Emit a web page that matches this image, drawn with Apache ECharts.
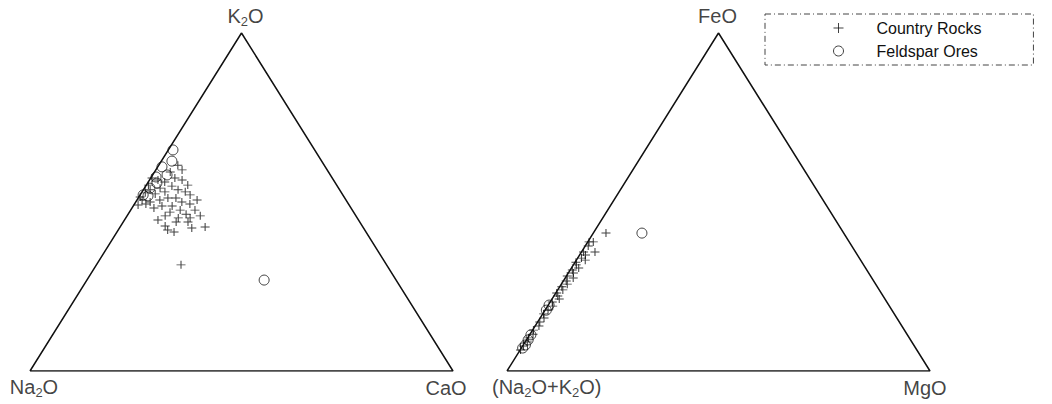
<!DOCTYPE html>
<html>
<head>
<meta charset="utf-8">
<script src="https://cdn.jsdelivr.net/npm/echarts@6/dist/echarts.min.js"></script>
<style>
html,body{margin:0;padding:0;background:#fff;}
#chart{width:1052px;height:404px;}
</style>
</head>
<body>
<div id="chart"></div>
<script>
// ---- Vertex (apex) labels: [bottom-left, top, bottom-right] ----
const leftVertexLabels = ['{m|Na}{s|2}{m|O}', '{m|K}{s|2}{m|O}', '{m|CaO}'];
const rightVertexLabels = ['{m|(Na}{s|2}{m|O+K}{s|2}{m|O)}', '{m|FeO}', '{m|MgO}'];
const seriesNames = ['Country Rocks', 'Feldspar Ores'];

// ---- Left diagram: compositions [Na2O, K2O, CaO] (%) ----
const leftCountryRocks = [
  [42.6,57.1,0.3],[41.5,56.5,2.0],[40.2,55.9,3.9],[37.2,57.1,5.7],[35.8,56.5,7.7],
  [39.1,54.7,6.2],[42.2,54.1,3.7],[44.8,53.6,1.6],[46.4,52.7,0.9],[44.2,52.4,3.4],
  [41.6,53.0,5.4],[38.2,53.6,8.2],[36.8,53.0,10.2],[36.1,52.1,11.8],[41.8,51.2,7.0],
  [39.9,51.2,8.9],[44.0,50.6,5.4],[46.6,50.0,3.4],[48.2,50.6,1.2],[39.1,50.0,10.9],
  [37.5,49.4,13.1],[42.0,48.8,9.2],[40.7,47.6,11.7],[37.2,47.6,15.2],[43.4,47.0,9.6],
  [39.9,46.4,13.7],[42.3,45.3,12.4],[39.5,45.3,15.2],[45.1,45.9,9.0],[36.8,45.9,17.3],
  [43.4,44.1,12.5],[40.6,44.1,15.3],[47.4,44.7,7.9],[37.3,42.6,20.1],[40.6,42.3,17.1],
  [45.4,41.1,13.5],[48.6,31.4,20.0],[44.4,48.8,6.8],[46.6,48.2,5.2],[35.2,50.6,14.2],
  [44.5,55.0,0.5],[35.2,55.0,9.8],[37.4,58.9,3.7],[34.6,60.9,4.5],[34.3,59.5,6.2],
  [48.2,51.5,0.3],[47.9,49.4,2.7],[49.9,49.1,1.0],[46.6,42.9,10.5],[46.6,41.7,11.7]
];
const leftFeldsparOres = [
  [33.5,65.4,1.1],[35.4,62.1,2.5],[38.6,60.4,1.0],[38.6,58.0,3.4],[41.5,57.4,1.1],
  [44.6,54.1,1.3],[47.2,52.1,0.7],[46.2,51.8,2.0],[42.2,55.6,2.2],[31.2,26.9,41.9]
];

// ---- Right diagram: compositions [Na2O+K2O, FeO, MgO] (%) ----
const rightCountryRocks = [
  [56.2,40.8,3.0],[61.5,38.2,0.3],[64.3,35.2,0.5],[64.3,34.3,1.4],[65.7,33.4,0.9],
  [67.6,32.2,0.2],[67.9,31.4,0.7],[67.8,30.5,1.7],[69.6,29.9,0.5],[69.8,29.0,1.2],
  [71.7,28.1,0.2],[70.6,27.5,1.9],[72.7,26.6,0.7],[72.9,25.7,1.4],[74.6,24.9,0.5],
  [74.8,24.0,1.2],[76.7,23.1,0.2],[76.9,22.2,0.9],[77.0,21.3,1.7],[79.1,20.4,0.5],
  [79.6,19.2,1.2],[81.3,18.0,0.7],[82.9,16.9,0.2],[83.4,15.7,0.9],[85.0,14.5,0.5],
  [85.8,13.3,0.9],[87.7,12.1,0.2],[88.4,10.9,0.7],[90.0,9.8,0.2],[90.9,8.6,0.5],
  [92.4,7.4,0.2],[93.7,6.2,0.1],[65.1,32.8,2.1],[62.3,37.0,0.7],[61.6,35.2,3.2],
  [60.5,38.2,1.3]
];
const rightFeldsparOres = [
  [47.7,40.8,11.5],[80.3,19.5,0.2],[81.7,18.0,0.3],[89.0,10.7,0.3],
  [90.4,9.2,0.4],[91.8,7.7,0.5],[92.9,6.8,0.3]
];

// ternary corners [left, top, right]
const corners = [[100,0,0],[0,100,0],[0,0,100],[100,0,0]];

// ternary -> diagram plane (x: 0..1, y: 0..1 of the triangle's height)
function project(c) {
  const s = c[0] + c[1] + c[2];
  const top = c[1] / s, right = c[2] / s;
  return [right + top / 2, top];
}

const crossPath = 'path://M5,0 L5,10 M0,5 L10,5';
const FONT = 'Liberation Sans, Arial, sans-serif';

const rich = {
  m: { fontSize: 20, lineHeight: 22, verticalAlign: 'top', fontFamily: FONT, color: '#111' },
  s: { fontSize: 13, lineHeight: 14, padding: [9, 0, 0, 0], verticalAlign: 'top', fontFamily: FONT, color: '#111' }
};

function frame(gi) {
  return {
    type: 'line', xAxisIndex: gi, yAxisIndex: gi, silent: true,
    data: corners.map(project), symbol: 'none',
    lineStyle: { color: '#111', width: 1.5 }, z: 1
  };
}
function vertexLabels(gi, labels, cfg) {
  return {
    type: 'scatter', xAxisIndex: gi, yAxisIndex: gi, silent: true,
    symbolSize: 0,
    data: corners.slice(0, 3).map((c, i) => ({
      value: project(c),
      label: Object.assign({
        show: true, position: 'inside', formatter: labels[i],
        fontFamily: FONT, rich: rich
      }, cfg[i])
    }))
  };
}
function rocks(gi, data) {
  return {
    name: seriesNames[0], type: 'scatter', xAxisIndex: gi, yAxisIndex: gi,
    symbol: crossPath, symbolSize: [9, 8],
    itemStyle: { color: 'rgba(0,0,0,0)', borderColor: '#111', borderWidth: 1 },
    data: data.map(project), z: 3
  };
}
function ores(gi, data) {
  return {
    name: seriesNames[1], type: 'scatter', xAxisIndex: gi, yAxisIndex: gi,
    symbol: 'circle', symbolSize: 10,
    itemStyle: { color: 'rgba(255,255,255,0)', borderColor: '#111', borderWidth: 1 },
    data: data.map(project), z: 4
  };
}

const axisBase = { type: 'value', min: 0, max: 1, show: false };

const chart = echarts.init(document.getElementById('chart'), null, { renderer: 'svg' });
chart.setOption({
  backgroundColor: '#fff',
  animation: false,
  grid: [
    { left: 30, top: 33, width: 423, height: 338 },
    { left: 507, top: 33, width: 423, height: 338 }
  ],
  xAxis: [Object.assign({ gridIndex: 0 }, axisBase), Object.assign({ gridIndex: 1 }, axisBase)],
  yAxis: [Object.assign({ gridIndex: 0 }, axisBase), Object.assign({ gridIndex: 1 }, axisBase)],
  legend: {
    orient: 'vertical', left: 765, top: 14,
    padding: [6, 52, 6, 68], itemGap: 7,
    itemWidth: 10, itemHeight: 10,
    borderColor: '#444', borderWidth: 1, borderType: [6, 3, 1, 3],
    textStyle: { fontFamily: FONT, fontSize: 16, color: '#111', padding: [0, 0, 0, 28] },
    data: [
      { name: seriesNames[0], icon: crossPath, itemStyle: { color: 'rgba(0,0,0,0)', borderColor: '#111', borderWidth: 1 } },
      { name: seriesNames[1], icon: 'circle', itemStyle: { color: 'rgba(255,255,255,0)', borderColor: '#111', borderWidth: 1 } }
    ]
  },
  series: [
    frame(0), frame(1),
    vertexLabels(0, leftVertexLabels, [
      { offset: [4, 17] }, { offset: [4, -16] }, { offset: [-7, 18] }
    ]),
    vertexLabels(1, rightVertexLabels, [
      { offset: [-15, 17], align: 'left' }, { offset: [-1, -16] }, { offset: [-5, 18] }
    ]),
    rocks(0, leftCountryRocks), rocks(1, rightCountryRocks),
    ores(0, leftFeldsparOres), ores(1, rightFeldsparOres)
  ]
});
</script>
</body>
</html>
